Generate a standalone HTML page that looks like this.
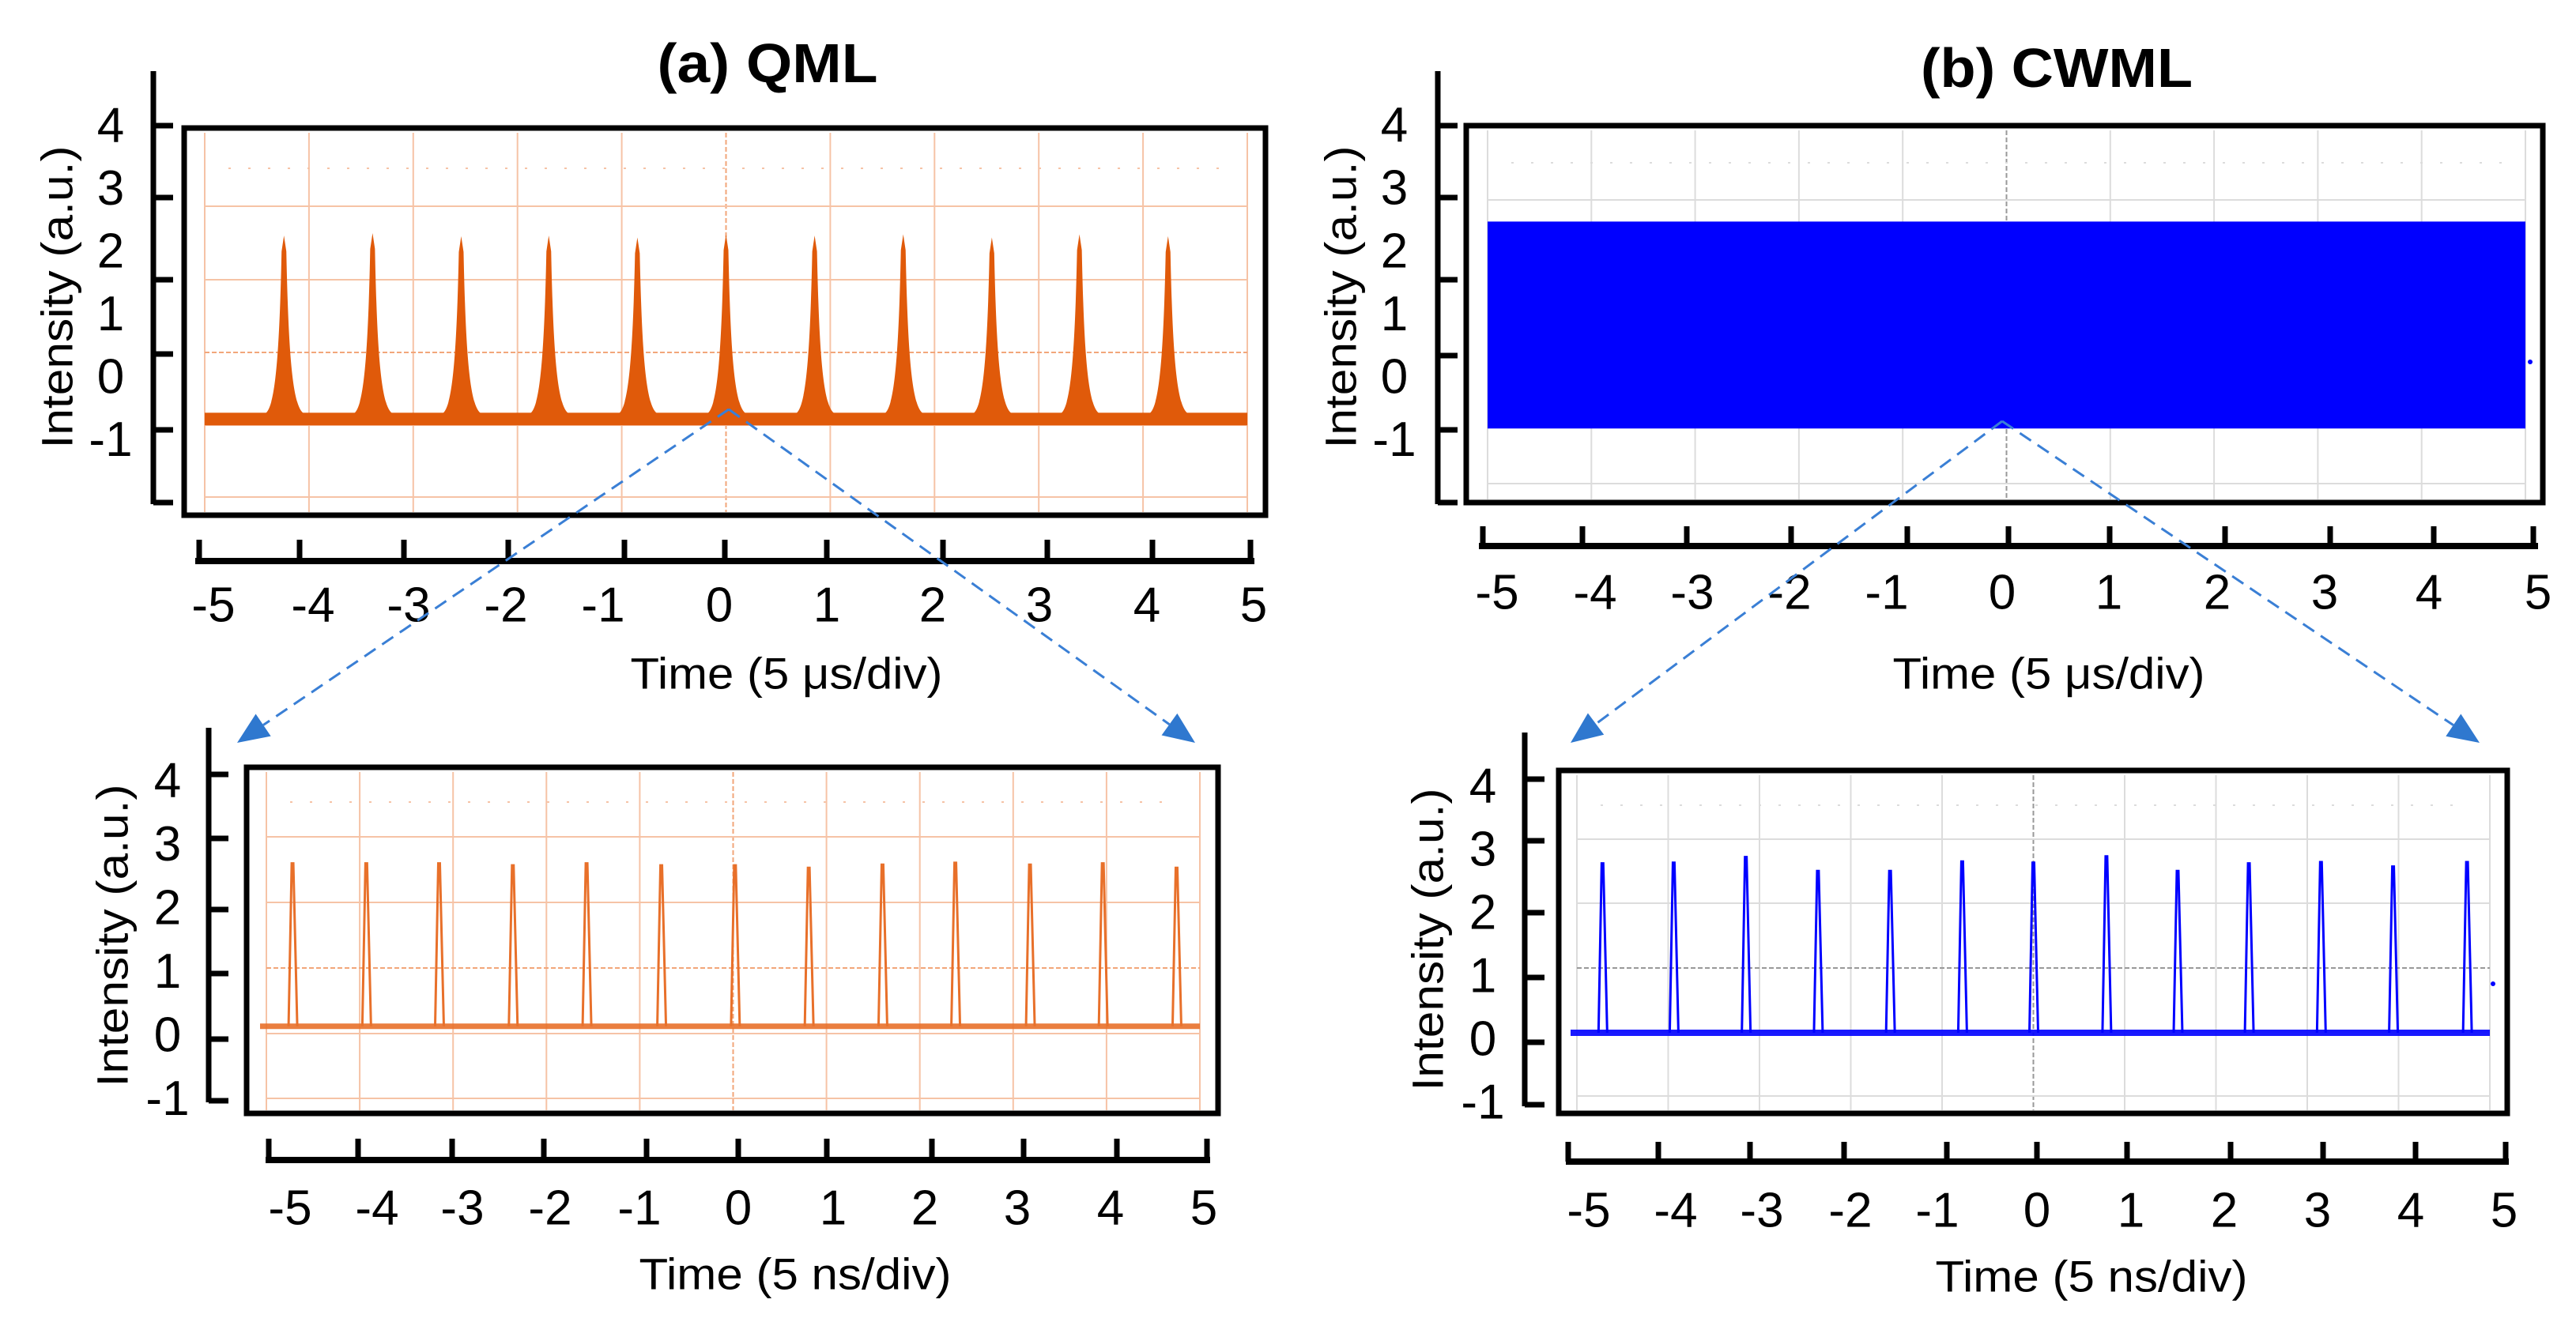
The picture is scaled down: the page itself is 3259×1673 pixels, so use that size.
<!DOCTYPE html>
<html><head><meta charset="utf-8"><title>QML vs CWML</title>
<style>html,body{margin:0;padding:0;background:#fff}svg{display:block}text{font-family:"Liberation Sans",sans-serif;fill:#000}</style>
</head><body>
<svg id="fig" xmlns="http://www.w3.org/2000/svg" width="3259" height="1673" viewBox="0 0 3259 1673">
<rect width="3259" height="1673" fill="#fff"/>
</svg>
<script>
// ---- data ----
const yTickLabels = ['4','3','2','1','0','-1'];
const yTickValues = [4,3,2,1,0,-1];
const xTickLabels = ['-5','-4','-3','-2','-1','0','1','2','3','4','5'];
// (a) QML, 5 us/div: pulse envelope peaks (time in div, intensity a.u.)
const qmlUsPeakTimes = [-4.24,-3.39,-2.54,-1.70,-0.85,0.00,0.85,1.70,2.55,3.39,4.24];
const qmlUsPeakHeights = [2.25,2.29,2.24,2.25,2.22,2.27,2.25,2.27,2.22,2.27,2.24];
const qmlUsBaseLow = -0.77, qmlUsBaseHigh = -0.57;
// (a) QML, 5 ns/div
const qmlNsPeakTimes = [-4.72,-3.93,-3.15,-2.36,-1.57,-0.77,0.02,0.81,1.60,2.38,3.18,3.96,4.75];
const qmlNsPeakHeights = [2.70,2.70,2.70,2.67,2.70,2.67,2.67,2.63,2.68,2.71,2.68,2.70,2.63];
const qmlNsBase = 0.14;
// (b) CWML, 5 us/div: continuous band
const cwmlUsBandLow = -0.82, cwmlUsBandHigh = 2.47;
// (b) CWML, 5 ns/div
const cwmlNsPeakTimes = [-4.72,-3.94,-3.15,-2.36,-1.57,-0.78,0.00,0.80,1.58,2.36,3.15,3.94,4.75];
const cwmlNsPeakHeights = [2.78,2.79,2.88,2.66,2.66,2.81,2.79,2.89,2.66,2.78,2.80,2.73,2.80];
const cwmlNsBase = 0.10;

const NS='http://www.w3.org/2000/svg';
const svg=document.getElementById('fig');
function mk(tag,attrs,parent){const e=document.createElementNS(NS,tag);for(const k in attrs)e.setAttribute(k,attrs[k]);(parent||svg).appendChild(e);return e;}

const panels=[
 {id:'qml-us',yAx:194,yTop:90,yBot:638,yTicks:[159,250,354,448,544,636],labX:140,y0:477,k:79.5,
  fr:[233,162,1601,652],gx0:259,gx1:1578,hg:[261,354,446,538,629],dot:213,grid:'#f6c3a6',center:'#f2a67a',
  xAxY:710,xAx0:247,xAx1:1587,xt:[252,379,511,643,790,917,1046,1193,1325,1458,1582],xtTop:683,
  xl:[270,396,517,640,763,910,1046,1180,1315,1451,1586],xlY:766,
  xTitle:'Time (5 \u03bcs/div)',xtX:995,xtY:852,ytX:72,ytY:376},
 {id:'qml-ns',yAx:264,yTop:921,yBot:1395,yTicks:[980,1061,1151,1232,1315,1393],labX:212,y0:1310,k:80.5,
  fr:[312,971,1541,1409],gx0:337,gx1:1518,hg:[1059,1142,1225,1308,1390],dot:1015,grid:'#f6c3a6',center:'#f2a67a',
  xAxY:1468,xAx0:336,xAx1:1531,xt:[340,453,572,688,818,934,1046,1179,1295,1413,1527],xtTop:1441,
  xl:[367,477,585,696,809,934,1054,1170,1287,1405,1523],xlY:1529,
  xTitle:'Time (5 ns/div)',xtX:1006,xtY:1612,ytX:142,ytY:1184},
 {id:'cwml-us',yAx:1819,yTop:90,yBot:638,yTicks:[159,250,354,450,544,636],labX:1764,y0:477,k:79.6,
  fr:[1855,159,3217,636],gx0:1882,gx1:3195,hg:[253,343,433,522,612],dot:206,grid:'#dcdcdc',center:'#999',
  xAxY:691,xAx0:1871,xAx1:3211,xt:[1876,2002,2134,2266,2413,2541,2669,2815,2948,3079,3205],xtTop:666,
  xl:[1894,2018,2141,2264,2387,2533,2668,2805,2941,3073,3211],xlY:750,
  xTitle:'Time (5 \u03bcs/div)',xtX:2592,xtY:852,ytX:1696,ytY:376},
 {id:'cwml-ns',yAx:1929,yTop:927,yBot:1400,yTicks:[986,1064,1155,1237,1319,1398],labX:1876,y0:1315,k:80,
  fr:[1972,975,3172,1409],gx0:1995,gx1:3150,hg:[1062,1143,1225,1306,1387],dot:1019,grid:'#dcdcdc',center:'#999',
  xAxY:1470,xAx0:1981,xAx1:3174,xt:[1984,2098,2214,2333,2463,2577,2691,2822,2939,3056,3170],xtTop:1445,
  xl:[2010,2120,2229,2341,2451,2577,2696,2814,2932,3050,3168],xlY:1532,
  xTitle:'Time (5 ns/div)',xtX:2646,xtY:1615,ytX:1806,ytY:1189}
];
function xs(p,t){return p.gx0+(t+5)*(p.gx1-p.gx0)/10;}
function ys(p,v){return p.y0-v*p.k;}

panels.forEach(p=>{
  const g=mk('g',{});
  
  
  const [fx0,fy0,fx1,fy1]=p.fr;
  const grid=mk('g',{},g);
  
  
  for(let i=0;i<=10;i++){const x=p.gx0+i*(p.gx1-p.gx0)/10;
    mk('line',{x1:x,y1:fy0+6,x2:x,y2:fy1-4,stroke:i==5?p.center:p.grid,'stroke-width':2,'stroke-dasharray':i==5?'6 3':'none'},grid);}
  p.hg.forEach((y,i)=>{mk('line',{x1:p.gx0,y1:y,x2:p.gx1,y2:y,stroke:i==2?p.center:p.grid,'stroke-width':2,'stroke-dasharray':i==2?'6 3':'none'},grid);});
  mk('line',{x1:p.gx0+30,y1:p.dot,x2:p.gx1-30,y2:p.dot,stroke:p.grid,'stroke-width':2,'stroke-dasharray':'3 22'},grid);
  const fr=mk('rect',{x:fx0,y:fy0,width:fx1-fx0,height:fy1-fy0,fill:'none',stroke:'#000','stroke-width':7},g);
  
  
  const ya=mk('g',{},g);
  
  
  mk('line',{x1:p.yAx,y1:p.yTop,x2:p.yAx,y2:p.yBot,stroke:'#000','stroke-width':7},ya);
  p.yTicks.forEach(y=>mk('line',{x1:p.yAx,y1:y,x2:p.yAx+25,y2:y,stroke:'#000','stroke-width':7},ya));
  yTickValues.forEach((v,i)=>{const t=mk('text',{x:p.labX,y:ys(p,v),'font-size':62,'text-anchor':'middle','dominant-baseline':'central'},ya);t.textContent=yTickLabels[i];
    
    });
  const yt=mk('text',{x:p.ytX,y:p.ytY,'font-size':56,'text-anchor':'middle','dominant-baseline':'central',transform:`rotate(-90 ${p.ytX} ${p.ytY})`,textLength:383,lengthAdjust:'spacingAndGlyphs'},ya);
  yt.textContent='Intensity (a.u.)';
  
  
  const xa=mk('g',{},g);
  
  
  mk('line',{x1:p.xAx0,y1:p.xAxY,x2:p.xAx1,y2:p.xAxY,stroke:'#000','stroke-width':8},xa);
  p.xt.forEach(x=>mk('line',{x1:x,y1:p.xtTop,x2:x,y2:p.xAxY,stroke:'#000','stroke-width':7},xa));
  p.xl.forEach((x,i)=>{const t=mk('text',{x:x,y:p.xlY,'font-size':62,'text-anchor':'middle','dominant-baseline':'central'},xa);t.textContent=xTickLabels[i];
    
    });
  const xt=mk('text',{x:p.xtX,y:p.xtY,'font-size':56,'text-anchor':'middle','dominant-baseline':'central',textLength:395,lengthAdjust:'spacingAndGlyphs'},xa);
  xt.textContent=p.xTitle;
  
  
  p.g=g;
});

(function(){const p=panels[0];const g=mk('g',{fill:'#e05a0a'},p.g);
  
  
  const yl=ys(p,qmlUsBaseLow),yh=ys(p,qmlUsBaseHigh);
  mk('rect',{x:xs(p,-5),y:yh,width:xs(p,5)-xs(p,-5),height:yl-yh},g);
  qmlUsPeakTimes.forEach((t,i)=>{const X=xs(p,t),T=ys(p,qmlUsPeakHeights[i]);
    const e=mk('path',{d:`M${X-26},${yh+2} C${X-12},${yh} ${X-6},${yh-60} ${X-3},${T+20} L${X},${T} L${X+3},${T+20} C${X+6},${yh-60} ${X+12},${yh} ${X+28},${yh+2} Z`},g);
    
    });
})();
function spikes(p,times,heights,base,color,name,bw){const g=mk('g',{},p.g);
  
  
  const yb=ys(p,base);
  mk('line',{x1:xs(p,-5)-8,y1:yb,x2:xs(p,5),y2:yb,stroke:color,'stroke-width':bw,'stroke-opacity':0.9},g);
  times.forEach((t,i)=>{const X=xs(p,t),T=ys(p,heights[i]);
    const e=mk('path',{d:`M${X-5},${yb} L${X-1},${T} L${X+1},${T} L${X+6},${yb}`,fill:'none',stroke:color,'stroke-width':3},g);
    
    });
}
spikes(panels[1],qmlNsPeakTimes,qmlNsPeakHeights,qmlNsBase,'#e8702a','qml-ns-trace',7);
spikes(panels[3],cwmlNsPeakTimes,cwmlNsPeakHeights,cwmlNsBase,'#0000ff','cwml-ns-trace',8);
(function(){const p=panels[2];const y1=ys(p,cwmlUsBandHigh),y0=ys(p,cwmlUsBandLow);
  const r=mk('rect',{x:xs(p,-5),y:y1,width:xs(p,5)-xs(p,-5),height:y0-y1,fill:'#0000ff'},p.g);
  
  
  mk('circle',{cx:3201,cy:458,r:3,fill:'#0000ff'},p.g);
})();
mk('circle',{cx:3154,cy:1245,r:3,fill:'#0000ff'});

[['(a) QML',971,80,279],['(b) CWML',2602,86,344]].forEach(a=>{const t=mk('text',{x:a[1],y:a[2],'font-size':70,'font-weight':'bold','text-anchor':'middle','dominant-baseline':'central',textLength:a[3],lengthAdjust:'spacingAndGlyphs'});t.textContent=a[0];
  
  });

function arrow(x0,y0,x1,y1){const g=mk('g',{});
  
  
  const dx=x1-x0,dy=y1-y0,L=Math.hypot(dx,dy),ux=dx/L,uy=dy/L,h=40,w=17;
  const bx=x1-ux*h,by=y1-uy*h;
  mk('line',{x1:x0,y1:y0,x2:bx,y2:by,stroke:'#3a7fd5','stroke-width':3,'stroke-dasharray':'17 10'},g);
  mk('polygon',{points:`${x1},${y1} ${bx-uy*w},${by+ux*w} ${bx+uy*w},${by-ux*w}`,fill:'#2f78cf'},g);}
arrow(922,518,300,940);arrow(922,518,1512,940);
arrow(2533,533,1987,940);arrow(2533,533,3137,940);
</script>
</body></html>
